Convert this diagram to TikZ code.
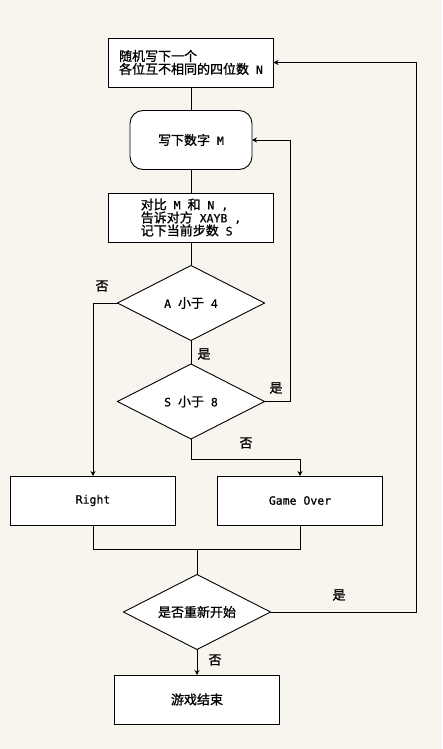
\documentclass[tikz,border=0pt]{standalone}
\usepackage{fontspec}
\setmainfont{DejaVu Sans Mono}[FakeBold=0.6]
\newfontfamily\cjk[Scale=1.13,FakeBold=1]{Noto Sans CJK SC}
\usetikzlibrary{positioning,shapes.geometric,arrows.meta}
\definecolor{paper}{RGB}{248,245,239}

\begin{document}
\begin{tikzpicture}[x=1pt,y=-1pt,
        every node/.style = {font=\fontsize{11.5}{13}\selectfont,inner sep=0pt,outer sep=0pt},
        stepbox/.style = {draw,fill=white,line width=.9pt,minimum width=165pt,minimum height=49pt,align=left},
        roundbox/.style = {stepbox,rounded corners=13pt,minimum width=122pt,minimum height=59pt},
        decision/.style = {draw,fill=white,diamond,aspect=2,line width=.9pt,minimum width=147pt,minimum height=75pt},
        answer/.style = {font=\fontsize{11.5}{13}\selectfont\cjk},
        flow/.style = {line width=.9pt},
        arrowflow/.style = {flow,-{Stealth[length=5pt,width=5pt]}},
        node distance = 23.5pt,
        ]
        \path[fill=paper,use as bounding box] (0,0) rectangle (442,749);

        \node[stepbox] (rnd) at (191,62.5) {{\cjk 随机写下一个}\\{\cjk 各位互不相同的四位数} N};
        \node[roundbox] (guess) [below = of rnd] {{\cjk 写下数字} M};
        \node[stepbox] (compare) [below = of guess] {{\cjk 对比} M {\cjk 和} N ,\\{\cjk 告诉对方} XAYB ,\\{\cjk 记下当前步数} S};
        \node[decision] (lessA) [below = of compare] {A {\cjk 小于} 4};
        \node[decision] (lessS) [below = of lessA] {S {\cjk 小于} 8};
        \node[stepbox] (right) at (93,500.5) {Right};
        \node[stepbox] (over) at (300,500.5) {Game Over};
        \node[decision] (again) at (197,612) {{\cjk 是否重新开始}};
        \node[stepbox] (stop) at (197,699.5) {{\cjk 游戏结束}};

        % yes / no labels
        \node[answer] (noA) at (102,286) {否};
        \node[answer] (yesA) at (204,354) {是};
        \node[answer] (yesS) at (276,388) {是};
        \node[answer] (noS) at (246,443) {否};
        \node[answer] (yesAgain) at (339,595) {是};
        \node[answer] (noAgain) at (215,660) {否};

        \draw[flow] (rnd) -- (guess) (guess) -- (compare) (compare) -- (lessA) (lessA) -- (lessS);
        \draw[arrowflow] (lessA.west) -| (right.north);
        \draw[arrowflow] (lessS.east) -- ++(26,0) |- (guess.east);
        \draw[arrowflow] (lessS.south) -- ++(0,20) -| (over.north);
        \draw[flow] (right.south) -- ++(0,24) -| (over.south);
        \draw[flow] (again.north) -- ++(0,-26);
        \draw[arrowflow] (again.east) -- ++(146,0) |- (rnd.east);
        \draw[arrowflow] (again) -- (stop);
    \end{tikzpicture}
\end{document}
